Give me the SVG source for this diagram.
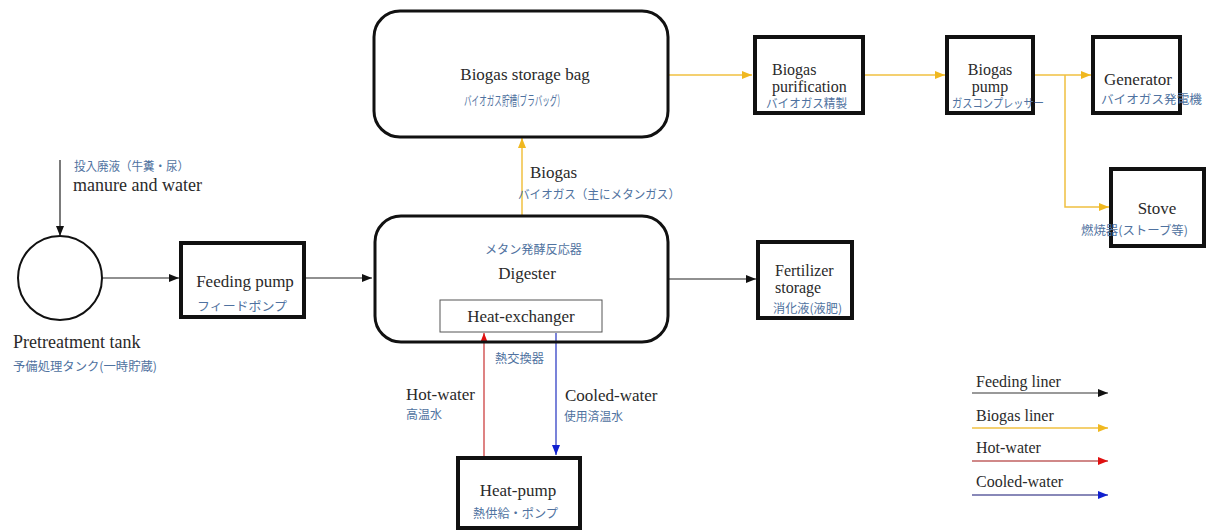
<svg xmlns="http://www.w3.org/2000/svg" width="1226" height="531" viewBox="0 0 1226 531">
<style>
.en{font-family:"Liberation Serif","Times New Roman",serif;font-size:17px;fill:#2a2a2a}
.en2{font-family:"Liberation Serif","Times New Roman",serif;font-size:16px;fill:#2a2a2a}
.lg{font-family:"Liberation Serif","Times New Roman",serif;font-size:16px;fill:#2a2a2a}
.jp{font-family:"Noto Sans CJK JP","Noto Sans",sans-serif;font-size:12px;fill:#4f72a0}
.box{fill:none;stroke:#111;stroke-width:4}
.rbox{fill:none;stroke:#111;stroke-width:3}
.k{stroke:#222;stroke-width:1.2;fill:none}
.y{stroke:#f0c040;stroke-width:1.5;fill:none}
.r{stroke:#c83030;stroke-width:1.2;fill:none}
.b{stroke:#2030c0;stroke-width:1.2;fill:none}
</style>
<defs>
<marker id="ak" markerUnits="userSpaceOnUse" markerWidth="10" markerHeight="8" refX="10" refY="4" orient="auto"><path d="M0,0 L10,4 L0,8 z" fill="#111"/></marker>
<marker id="ay" markerUnits="userSpaceOnUse" markerWidth="10" markerHeight="8" refX="10" refY="4" orient="auto"><path d="M0,0 L10,4 L0,8 z" fill="#f0b820"/></marker>
<marker id="ar" markerUnits="userSpaceOnUse" markerWidth="10" markerHeight="8" refX="10" refY="4" orient="auto"><path d="M0,0 L10,4 L0,8 z" fill="#e01010"/></marker>
<marker id="ab" markerUnits="userSpaceOnUse" markerWidth="10" markerHeight="8" refX="10" refY="4" orient="auto"><path d="M0,0 L10,4 L0,8 z" fill="#1020d0"/></marker>
</defs>
<rect width="1226" height="531" fill="#fff"/>

<g id="connectors">
<line class="k" x1="60" y1="160" x2="60" y2="236" marker-end="url(#ak)"/>
<line class="k" x1="102" y1="278" x2="179" y2="278" marker-end="url(#ak)"/>
<line class="k" x1="306" y1="278" x2="372" y2="278" marker-end="url(#ak)"/>
<line class="k" x1="668" y1="279" x2="756" y2="279" marker-end="url(#ak)"/>
<line class="y" x1="522" y1="215" x2="522" y2="138" marker-end="url(#ay)"/>
<line class="y" x1="668" y1="75" x2="752" y2="75" marker-end="url(#ay)"/>
<line class="y" x1="864" y1="75" x2="945" y2="75" marker-end="url(#ay)"/>
<line class="y" x1="1034" y1="75" x2="1091" y2="75" marker-end="url(#ay)"/>
<polyline class="y" points="1065,75 1065,207 1109,207" marker-end="url(#ay)"/>
<line class="r" x1="484" y1="456" x2="484" y2="333" marker-end="url(#ar)"/>
<line class="b" x1="556" y1="333" x2="556" y2="455" marker-end="url(#ab)"/>
</g>

<g id="storage-bag">
<rect class="rbox" x="374" y="11" width="294" height="126" rx="26"/>
<text class="en" x="525" y="80" text-anchor="middle">Biogas storage bag</text>
<text class="jp" x="464" y="105" textLength="96" lengthAdjust="spacingAndGlyphs" style="font-size:13px">バイオガス貯槽(ブラバッグ)</text>
</g>

<g id="purification">
<rect class="box" x="755" y="37" width="108" height="76"/>
<text class="en2" x="772" y="75">Biogas</text>
<text class="en2" x="772" y="92">purification</text>
<text class="jp" x="766" y="108" textLength="81" lengthAdjust="spacingAndGlyphs">バイオガス精製</text>
</g>

<g id="biogas-pump">
<rect class="box" x="947" y="37" width="86" height="76"/>
<text class="en2" x="990" y="75" text-anchor="middle">Biogas</text>
<text class="en2" x="990" y="92" text-anchor="middle">pump</text>
<text class="jp" x="952" y="108" textLength="92" lengthAdjust="spacingAndGlyphs">ガスコンプレッサー</text>
</g>

<g id="generator">
<rect class="box" x="1093" y="37" width="87" height="76"/>
<text class="en" x="1138" y="85" text-anchor="middle">Generator</text>
<text class="jp" x="1101" y="104" textLength="101" lengthAdjust="spacingAndGlyphs">バイオガス発電機</text>
</g>

<g id="stove">
<rect class="box" x="1111" y="169" width="93" height="77"/>
<text class="en" x="1157" y="214" text-anchor="middle">Stove</text>
<text class="jp" x="1081" y="235" textLength="107" lengthAdjust="spacingAndGlyphs">燃焼器(ストーブ等)</text>
</g>

<g id="pretreatment">
<circle cx="60" cy="278" r="42" fill="none" stroke="#111" stroke-width="2"/>
<text class="jp" x="74" y="171" textLength="115" lengthAdjust="spacingAndGlyphs">投入廃液（牛糞・尿）</text>
<text class="en" x="73" y="191" style="font-size:18px">manure and water</text>
<text class="en" x="13" y="348" style="font-size:18px">Pretreatment tank</text>
<text class="jp" x="13" y="371" textLength="144" lengthAdjust="spacingAndGlyphs">予備処理タンク(一時貯蔵)</text>
</g>

<g id="feeding-pump">
<rect class="box" x="181" y="243" width="123" height="74"/>
<text class="en" x="245" y="287" text-anchor="middle">Feeding pump</text>
<text class="jp" x="197" y="311" textLength="90" lengthAdjust="spacingAndGlyphs">フィードポンプ</text>
</g>

<g id="digester">
<rect class="rbox" x="375" y="216" width="293" height="126" rx="26"/>
<text class="jp" x="485" y="254" textLength="97" lengthAdjust="spacingAndGlyphs">メタン発酵反応器</text>
<text class="en" x="527" y="279" text-anchor="middle">Digester</text>
<text class="en" x="530" y="178">Biogas</text>
<text class="jp" x="518" y="199" textLength="162" lengthAdjust="spacingAndGlyphs">バイオガス（主にメタンガス）</text>
</g>

<g id="heat-exchanger">
<rect x="440" y="300" width="162" height="32" fill="none" stroke="#555" stroke-width="1"/>
<text class="en" x="521" y="322" text-anchor="middle">Heat-exchanger</text>
<text class="jp" x="495" y="363" textLength="49" lengthAdjust="spacingAndGlyphs">熱交換器</text>
</g>

<g id="water-labels">
<text class="en" x="406" y="400">Hot-water</text>
<text class="jp" x="406" y="419" textLength="36" lengthAdjust="spacingAndGlyphs">高温水</text>
<text class="en" x="565" y="401">Cooled-water</text>
<text class="jp" x="564" y="421" textLength="59" lengthAdjust="spacingAndGlyphs">使用済温水</text>
</g>

<g id="heat-pump">
<rect class="box" x="458" y="458" width="122" height="70"/>
<text class="en" x="518" y="496" text-anchor="middle">Heat-pump</text>
<text class="jp" x="473" y="518" textLength="85" lengthAdjust="spacingAndGlyphs">熱供給・ポンプ</text>
</g>

<g id="fertilizer">
<rect class="box" x="758" y="242" width="94" height="76"/>
<text class="en2" x="775" y="276">Fertilizer</text>
<text class="en2" x="775" y="293">storage</text>
<text class="jp" x="773" y="313" textLength="69" lengthAdjust="spacingAndGlyphs">消化液(液肥)</text>
</g>

<g id="legend">
<text class="lg" x="976" y="387">Feeding liner</text>
<line x1="972" y1="393" x2="1108" y2="393" stroke="#777" stroke-width="1.5" marker-end="url(#ak)"/>
<text class="lg" x="976" y="421">Biogas liner</text>
<line x1="972" y1="428" x2="1108" y2="428" stroke="#f0c040" stroke-width="1.5" marker-end="url(#ay)"/>
<text class="lg" x="976" y="453">Hot-water</text>
<line x1="972" y1="461" x2="1108" y2="461" stroke="#c06060" stroke-width="1.5" marker-end="url(#ar)"/>
<text class="lg" x="976" y="487">Cooled-water</text>
<line x1="972" y1="495" x2="1108" y2="495" stroke="#6060a0" stroke-width="1.5" marker-end="url(#ab)"/>
</g>
</svg>
